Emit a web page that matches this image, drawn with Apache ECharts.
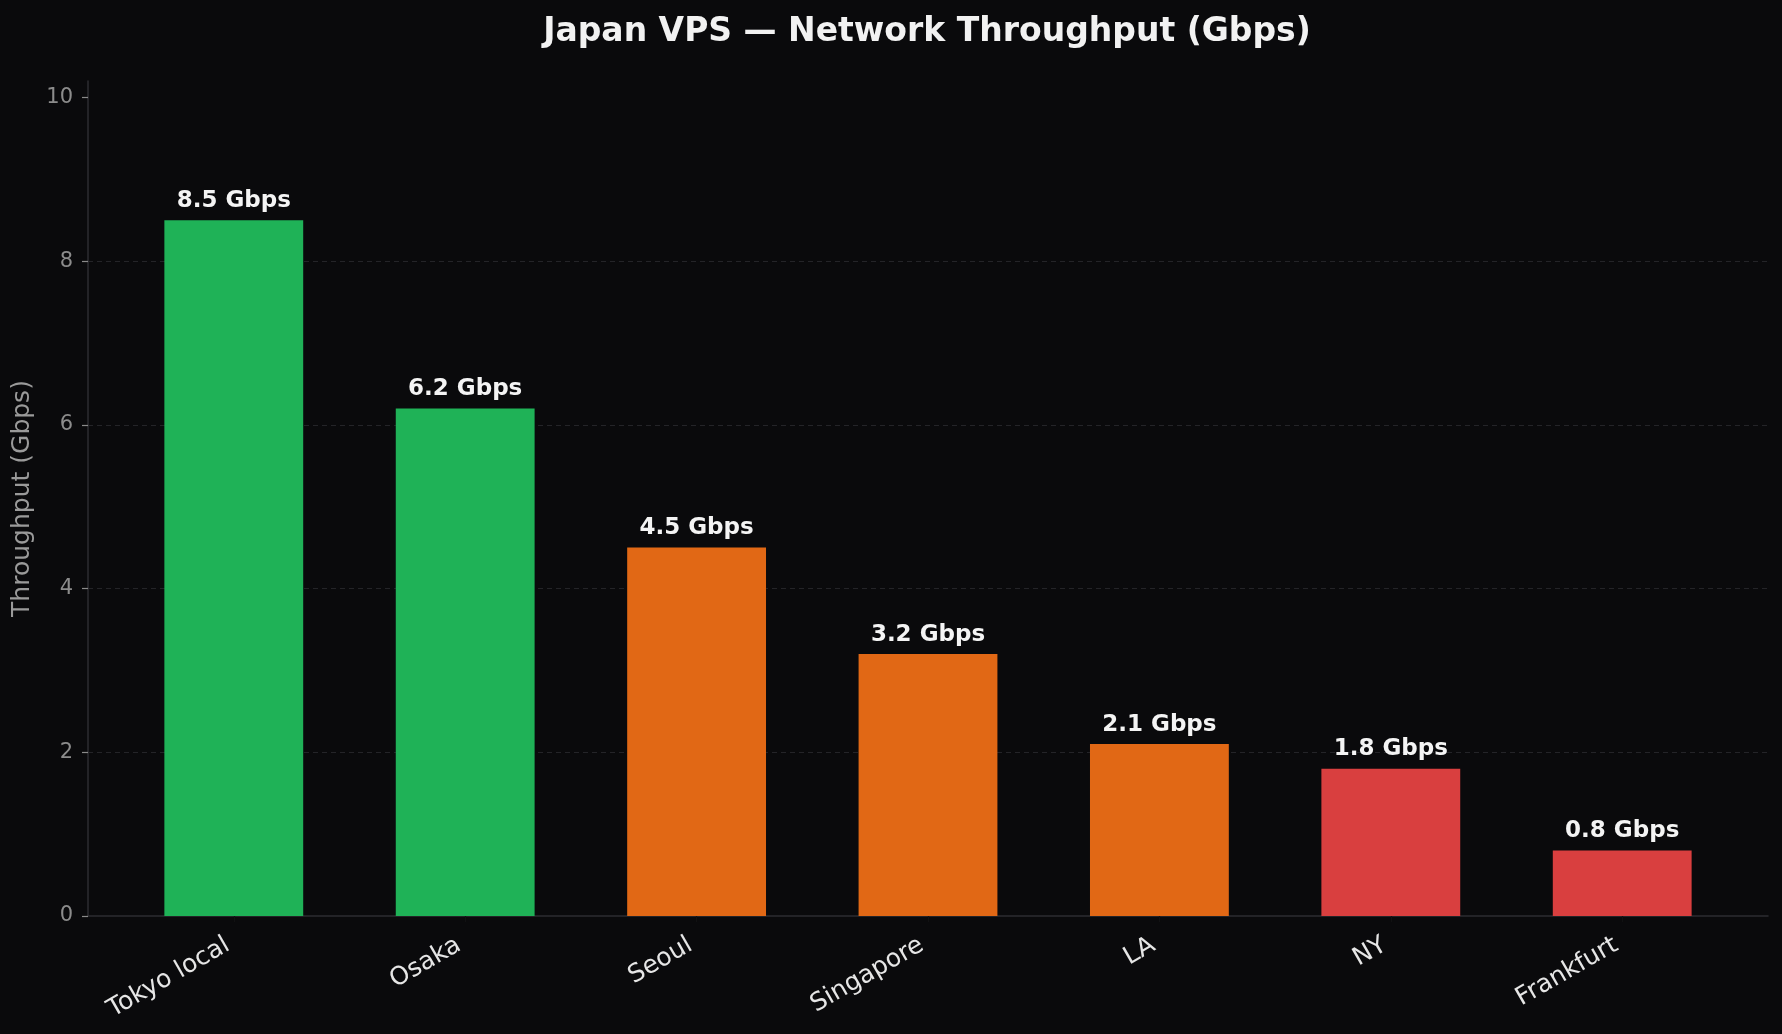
<!DOCTYPE html>
<html>
<head>
<meta charset="utf-8">
<style>
  html, body { margin: 0; padding: 0; background: #0a0a0c; }
  #chart { width: 1782px; height: 1034px; }
</style>
<script src="https://cdn.jsdelivr.net/npm/echarts@6/dist/echarts.min.js"></script>
</head>
<body>
<div id="chart"></div>
<script>
const categories = ['Tokyo local', 'Osaka', 'Seoul', 'Singapore', 'LA', 'NY', 'Frankfurt'];
const throughput = [8.5, 6.2, 4.5, 3.2, 2.1, 1.8, 0.8];
const barColors = ['#1fb257', '#1fb257', '#e16815', '#e16815', '#e16815', '#d93f3f', '#d93f3f'];
const yTicks = [0, 2, 4, 6, 8, 10];
const xTicks = categories.map((c, i) => i);

const FONT = 'DejaVu Sans';
const chart = echarts.init(document.getElementById('chart'), null, { renderer: 'canvas' });

chart.setOption({
  backgroundColor: '#0a0a0c',
  animation: false,
  title: {
    text: 'Japan VPS — Network Throughput (Gbps)',
    left: 927,
    textAlign: 'center',
    top: 16,
    padding: 0,
    textStyle: { color: '#f2f2f2', fontFamily: FONT, fontWeight: 'bold', fontSize: 33 }
  },
  grid: { left: 88, right: 14, top: 81, bottom: 118, containLabel: false },
  xAxis: {
    type: 'value',
    min: -0.63,
    max: 6.63,
    splitLine: { show: false },
    axisLine: { show: true, onZero: false, lineStyle: { color: '#2c2c30', width: 1.5 } },
    axisTick: { show: true, length: 6, customValues: xTicks, lineStyle: { color: '#111113', width: 1.2 } },
    axisLabel: {
      customValues: xTicks,
      rotate: 30,
      margin: 24,
      padding: [0, 7, 0, 0],
      color: '#e6e6e6',
      fontFamily: FONT,
      fontSize: 25,
      formatter: v => categories[Math.round(v)] || ''
    }
  },
  yAxis: {
    type: 'value',
    min: 0,
    max: 10.2,
    interval: 2,
    name: 'Throughput (Gbps)',
    nameLocation: 'middle',
    nameGap: 45,
    nameTextStyle: { color: '#9a9a9a', fontFamily: FONT, fontSize: 25 },
    axisLine: { show: true, onZero: false, lineStyle: { color: '#2c2c30', width: 1.5 } },
    axisTick: { show: true, length: 6, customValues: yTicks, lineStyle: { color: '#8a8a8a', width: 1.2 } },
    axisLabel: {
      customValues: yTicks,
      margin: 15,
      color: '#8c8c8c',
      fontFamily: FONT,
      fontSize: 21
    },
    splitLine: {
      show: true,
      showMinLine: false,
      showMaxLine: false,
      lineStyle: { color: '#242428', type: [5, 4], width: 1.2 }
    }
  },
  series: [{
    type: 'bar',
    barWidth: '60%',
    data: throughput.map((v, i) => ({ value: [i, v], itemStyle: { color: barColors[i] } })),
    label: {
      show: true,
      position: 'top',
      distance: 8,
      color: '#f4f4f4',
      fontFamily: FONT,
      fontWeight: 'bold',
      fontSize: 23,
      formatter: p => p.value[1].toFixed(1) + ' Gbps'
    }
  }]
});
</script>
</body>
</html>
